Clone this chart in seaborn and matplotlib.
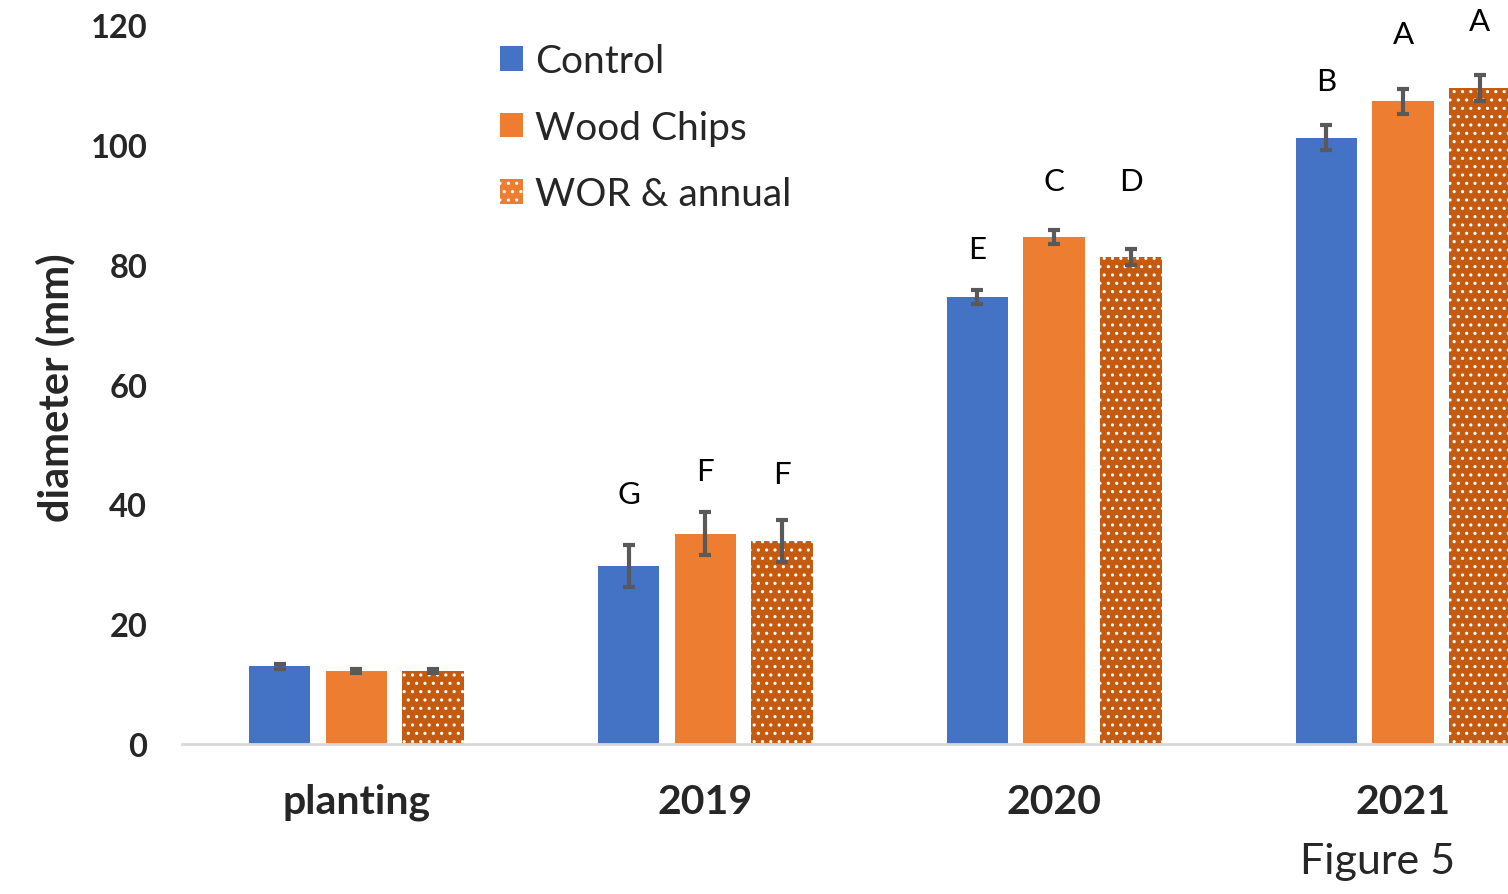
import matplotlib
matplotlib.use("Agg")
import matplotlib.pyplot as plt
import seaborn as sns
import pandas as pd
import numpy as np
from matplotlib.patches import Patch

# Stem diameter by treatment and year
periods = ["planting", "2019", "2020", "2021"]
treatments = ["Control", "Wood Chips", "WOR & annual"]

control_mean = [13.0, 29.7, 74.6, 101.2]
woodchips_mean = [12.2, 35.1, 84.6, 107.3]
wor_mean = [12.2, 33.9, 81.3, 109.5]

control_err = [0.4, 3.5, 1.2, 2.1]
woodchips_err = [0.4, 3.6, 1.2, 2.1]
wor_err = [0.4, 3.5, 1.3, 2.2]

# significance letters and the height at which each one is written
control_letters = ["", "G", "E", "B"]
woodchips_letters = ["", "F", "C", "A"]
wor_letters = ["", "F", "D", "A"]
control_letter_y = [None, 41.7, 82.6, 110.7]
woodchips_letter_y = [None, 45.6, 94.0, 118.5]
wor_letter_y = [None, 45.1, 94.0, 120.7]

colors = {"Control": "#4472C4", "Wood Chips": "#ED7D31", "WOR & annual": "#C55A11"}

df = pd.DataFrame({
    "period": periods * 3,
    "treatment": [t for t in treatments for _ in periods],
    "diameter": control_mean + woodchips_mean + wor_mean,
})
errs = [control_err, woodchips_err, wor_err]
letters = [control_letters, woodchips_letters, wor_letters]
letter_y = [control_letter_y, woodchips_letter_y, wor_letter_y]

sns.set_theme(style="white")
plt.rcParams["font.family"] = ["Lato", "DejaVu Sans"]
plt.rcParams["hatch.linewidth"] = 1.1

fig = plt.figure(figsize=(15.08, 8.95), dpi=100)
ax = fig.add_axes([182 / 1508, 150 / 895, 1395.5 / 1508, 719 / 895])

sns.barplot(data=df, x="period", y="diameter", hue="treatment",
            order=periods, hue_order=treatments, palette=colors,
            errorbar=None, width=0.66, gap=0.2, saturation=1,
            linewidth=0, legend=False, ax=ax)

bar_containers = list(ax.containers)
for ci, cont in enumerate(bar_containers):
    for bi, bar in enumerate(cont):
        xc = bar.get_x() + bar.get_width() / 2
        h = bar.get_height()
        if ci == 2:
            bar.set_hatch("..")
            bar.set_edgecolor("white")
            bar.set_linewidth(0)
        ax.errorbar(xc, h, yerr=errs[ci][bi], fmt="none", ecolor="#595959",
                    elinewidth=3, capsize=4.5, capthick=3, zorder=5)
        if letters[ci][bi]:
            ax.text(xc, letter_y[ci][bi], letters[ci][bi], ha="center",
                    va="center", fontsize=22.5, color="black", clip_on=False)

ax.set_xlim(-0.5, 3.5)
ax.set_ylim(0, 120)
ax.set_yticks(np.arange(0, 121, 20))
ax.tick_params(axis="both", length=0)
ax.tick_params(axis="y", pad=25, labelsize=23.5)
ax.tick_params(axis="x", pad=28, labelsize=29.5)
for lab in ax.get_xticklabels() + ax.get_yticklabels():
    lab.set_fontweight("bold")
ax.set_xlabel("")
ax.set_ylabel("diameter (mm)", fontsize=30, fontweight="bold")
ax.yaxis.set_label_coords(-0.0767, 0.5 - (387 - 385) / 719)

for side in ["top", "right", "left"]:
    ax.spines[side].set_visible(False)
ax.spines["bottom"].set_color("#D9D9D9")
ax.spines["bottom"].set_linewidth(2)

handles = [
    Patch(facecolor=colors["Control"], linewidth=0),
    Patch(facecolor=colors["Wood Chips"], linewidth=0),
    Patch(facecolor="#ED7D31", edgecolor="white", hatch="..", linewidth=0),
]
ax.legend(handles, treatments, loc="upper left",
          bbox_to_anchor=(500 / 1508, 1 - 44 / 895), bbox_transform=fig.transFigure,
          frameon=False, fontsize=28, handlelength=0.6, handleheight=0.6,
          handletextpad=0.3, labelspacing=0.79, borderpad=0, borderaxespad=0)

fig.text(1455 / 1508, 1 - 862 / 895, "Figure 5", ha="right", va="center", fontsize=31)

fig.savefig("out.png", dpi=100)
